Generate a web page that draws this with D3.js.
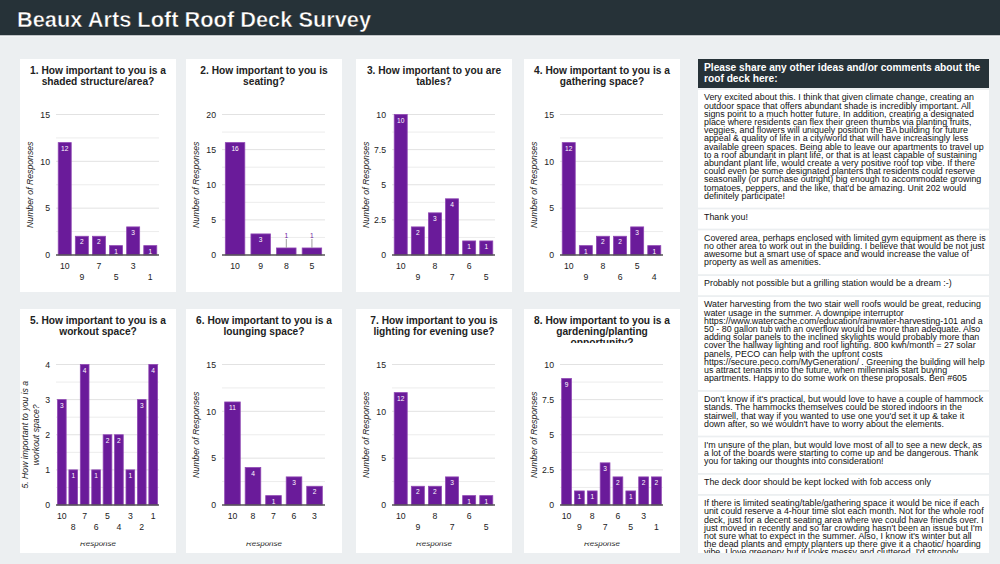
<!DOCTYPE html>
<html>
<head>
<meta charset="utf-8">
<script src="https://cdn.jsdelivr.net/npm/d3@7"></script>
<style>
  body { margin: 0; background: #eceff1; }
  svg { display: block; font-family: "Liberation Sans", Arial, sans-serif; }
</style>
</head>
<body>
<div id="container"></div>
<script>
const pageTitle = "Beaux Arts Loft Roof Deck Survey";

const chartTitles = [
  ["1. How important to you is a", "shaded structure/area?"],
  ["2. How important to you is", "seating?"],
  ["3. How important to you are", "tables?"],
  ["4. How important to you is a", "gathering space?"],
  ["5. How important to you is a", "workout space?"],
  ["6. How important to you is a", "lounging space?"],
  ["7. How important to you is", "lighting for evening use?"],
  ["8. How important to you is a", "gardening/planting", "opportunity?"]
];

const q1Responses = ["10", "9", "7", "5", "3", "1"];
const q1Counts = [12, 2, 2, 1, 3, 1];
const q2Responses = ["10", "9", "8", "5"];
const q2Counts = [16, 3, 1, 1];
const q3Responses = ["10", "9", "8", "7", "6", "5"];
const q3Counts = [10, 2, 3, 4, 1, 1];
const q4Responses = ["10", "9", "8", "6", "5", "4"];
const q4Counts = [12, 1, 2, 2, 3, 1];
const q5Responses = ["10", "8", "7", "6", "5", "4", "3", "2", "1"];
const q5Counts = [3, 1, 4, 1, 2, 2, 1, 3, 4];
const q6Responses = ["10", "8", "7", "6", "3"];
const q6Counts = [11, 4, 1, 3, 2];
const q7Responses = ["10", "9", "8", "7", "6", "5"];
const q7Counts = [12, 2, 2, 3, 1, 1];
const q8Responses = ["10", "9", "8", "7", "6", "5", "3", "1"];
const q8Counts = [9, 1, 1, 3, 2, 1, 2, 2];

const yMaxes = [15, 20, 10, 15, 4, 15, 15, 10];
const yLabelSteps = [5, 5, 2.5, 5, 1, 5, 5, 2.5];
const yAxisTitles = [
  ["Number of Responses"], ["Number of Responses"], ["Number of Responses"], ["Number of Responses"],
  ["5. How important to you is a", "workout space?"],
  ["Number of Responses"], ["Number of Responses"], ["Number of Responses"]
];
const xAxisTitle = "Response";

const commentHeader = ["Please share any other ideas and/or comments about the", "roof deck here:"];
const comments = [
  ["Very excited about this. I think that given climate change, creating an",
   "outdoor space that offers abundant shade is incredibly important. All",
   "signs point to a much hotter future. In addition, creating a designated",
   "place where residents can flex their green thumbs via planting fruits,",
   "veggies, and flowers will uniquely position the BA building for future",
   "appeal & quality of life in a city/world that will have increasingly less",
   "available green spaces. Being able to leave our apartments to travel up",
   "to a roof abundant in plant life, or that is at least capable of sustaining",
   "abundant plant life, would create a very positive roof top vibe. If there",
   "could even be some designated planters that residents could reserve",
   "seasonally (or purchase outright) big enough to accommodate growing",
   "tomatoes, peppers, and the like, that'd be amazing. Unit 202 would",
   "definitely participate!"],
  ["Thank you!"],
  ["Covered area, perhaps enclosed with limited gym equipment as there is",
   "no other area to work out in the building. I believe that would be not just",
   "awesome but a smart use of space and would increase the value of",
   "property as well as amenities."],
  ["Probably not possible but a grilling station would be a dream :-)"],
  ["Water harvesting from the two stair well roofs would be great, reducing",
   "water usage in the summer. A downpipe interruptor",
   "https://www.watercache.com/education/rainwater-harvesting-101 and a",
   "50 - 80 gallon tub with an overflow would be more than adequate. Also",
   "adding solar panels to the inclined skylights would probably more than",
   "cover the hallway lighting and roof lighting. 800 kwh/month = 27 solar",
   "panels, PECO can help with the upfront costs",
   "https://secure.peco.com/MyGeneration/ . Greening the building will help",
   "us attract tenants into the future, when millennials start buying",
   "apartments. Happy to do some work on these proposals. Ben #605"],
  ["Don't know if it's practical, but would love to have a couple of hammock",
   "stands. The hammocks themselves could be stored indoors in the",
   "stairwell, that way if you wanted to use one you'd set it up & take it",
   "down after, so we wouldn't have to worry about the elements."],
  ["I'm unsure of the plan, but would love most of all to see a new deck, as",
   "a lot of the boards were starting to come up and be dangerous. Thank",
   "you for taking our thoughts into consideration!"],
  ["The deck door should be kept locked with fob access only"],
  ["If there is limited seating/table/gathering space it would be nice if each",
   "unit could reserve a 4-hour time slot each month. Not for the whole roof",
   "deck, just for a decent seating area where we could have friends over. I",
   "just moved in recently and so far crowding hasn't been an issue but I'm",
   "not sure what to expect in the summer. Also, I know it's winter but all",
   "the dead plants and empty planters up there give it a chaotic/ hoarding",
   "vibe. I love greenery but it looks messy and cluttered. I'd strongly",
   "recommend clearing them out."]
];

const responses = [q1Responses, q2Responses, q3Responses, q4Responses, q5Responses, q6Responses, q7Responses, q8Responses];
const counts = [q1Counts, q2Counts, q3Counts, q4Counts, q5Counts, q6Counts, q7Counts, q8Counts];

const width = 1000;
const height = 564;
const colX = [20, 186, 356, 524];
const rowY = [59, 309];
const rowH = [233, 244];
const panelW = 156;
const plot = { left: 36, width: 103, top: 55.5, bottom: 196 };
const purple = "#6a1b9a";

const svg = d3.select("#container")
              .append("svg")
              .attr("width", width)
              .attr("height", height);

svg.append("rect").attr("width", width).attr("height", height).attr("fill", "#eceff1");

// page header
svg.append("rect").attr("width", width).attr("height", 35.5).attr("fill", "#263238");
svg.append("rect").attr("y", 35.5).attr("width", width).attr("height", 1.2).attr("fill", "#f7f8f9");
svg.append("text")
   .attr("x", 17)
   .attr("y", 27)
   .attr("fill", "#fff")
   .attr("stroke", "#111")
   .attr("stroke-width", 0.4)
   .attr("font-size", "21.8px")
   .attr("font-weight", "bold")
   .text(pageTitle);

const defs = svg.append("defs");

chartTitles.forEach((title, i) => {
  const col = i % 4, row = Math.floor(i / 4);
  const px = colX[col], py = rowY[row], ph = rowH[row];
  const g = svg.append("g").attr("transform", "translate(" + px + "," + py + ")");

  defs.append("clipPath").attr("id", "panel" + i)
      .append("rect").attr("width", panelW).attr("height", ph);
  defs.append("clipPath").attr("id", "title" + i)
      .append("rect").attr("width", panelW).attr("height", 34);
  defs.append("clipPath").attr("id", "xtitle" + i)
      .append("rect").attr("y", plot.bottom + 37.6).attr("width", panelW).attr("height", 20);

  g.append("rect").attr("width", panelW).attr("height", ph).attr("fill", "#fff");
  const inner = g.append("g").attr("clip-path", "url(#panel" + i + ")");

  inner.append("text")
       .attr("clip-path", "url(#title" + i + ")")
       .attr("text-anchor", "middle")
       .attr("font-size", "10.2px")
       .attr("font-weight", "bold")
       .attr("fill", "#222")
       .selectAll("tspan")
       .data(title)
       .enter()
       .append("tspan")
       .attr("x", panelW / 2)
       .attr("y", (d, j) => 15 + j * 11)
       .text((d) => d);

  const cats = responses[i], vals = counts[i];
  const yMax = yMaxes[i], step = yLabelSteps[i];

  const yScale = d3.scaleLinear()
                   .domain([0, yMax])
                   .range([plot.bottom, plot.top]);
  const xScale = d3.scaleBand()
                   .domain(cats)
                   .range([plot.left, plot.left + plot.width])
                   .paddingInner(0.24)
                   .paddingOuter(0.13);

  const majors = d3.range(0, yMax + step / 2, step);
  const minors = d3.range(step / 2, yMax, step);

  inner.selectAll(".minor")
       .data(minors)
       .enter()
       .append("line")
       .attr("x1", plot.left).attr("x2", plot.left + plot.width)
       .attr("y1", (d) => yScale(d)).attr("y2", (d) => yScale(d))
       .attr("stroke", "#ececec");
  inner.selectAll(".major")
       .data(majors.slice(1))
       .enter()
       .append("line")
       .attr("x1", plot.left).attr("x2", plot.left + plot.width)
       .attr("y1", (d) => yScale(d)).attr("y2", (d) => yScale(d))
       .attr("stroke", "#e2e2e2");

  const yAxis = d3.axisLeft(yScale).tickValues(majors).tickSize(0).tickPadding(6)
                  .tickFormat((d) => (Number.isInteger(d) ? d : d.toFixed(1)));
  const ya = inner.append("g")
                  .attr("transform", "translate(" + plot.left + ",0)")
                  .call(yAxis);
  ya.select(".domain").remove();
  ya.selectAll("text").attr("font-size", "8.7px").attr("fill", "#222").attr("font-family", null);

  const xAxis = d3.axisBottom(xScale).tickSize(0).tickPadding(0);
  const xa = inner.append("g")
                  .attr("transform", "translate(0," + plot.bottom + ")")
                  .call(xAxis);
  xa.select(".domain").remove();
  xa.selectAll("text")
    .attr("font-size", "8.7px")
    .attr("fill", "#222")
    .attr("font-family", null)
    .attr("dy", null)
    .attr("y", (d, j) => (cats.length > 5 && j % 2 == 1 ? 25 : 14));

  inner.selectAll(".bar")
       .data(vals)
       .enter()
       .append("rect")
       .attr("x", (d, j) => xScale(cats[j]))
       .attr("y", (d) => yScale(d))
       .attr("width", xScale.bandwidth())
       .attr("height", (d) => plot.bottom - yScale(d))
       .attr("fill", purple)
       .attr("stroke", "#8f47b3")
       .attr("stroke-width", 0.8);

  inner.append("line")
       .attr("x1", plot.left).attr("x2", plot.left + plot.width)
       .attr("y1", plot.bottom).attr("y2", plot.bottom)
       .attr("stroke", "#555")
       .attr("stroke-width", 1.5);

  vals.forEach((v, j) => {
    const cx = xScale(cats[j]) + xScale.bandwidth() / 2;
    const top = yScale(v);
    if (plot.bottom - top >= 9) {
      inner.append("text")
           .attr("x", cx).attr("y", top + 8)
           .attr("text-anchor", "middle")
           .attr("font-size", "6.6px")
           .attr("fill", "#fff")
           .text(v);
    } else {
      inner.append("line")
           .attr("x1", cx).attr("x2", cx)
           .attr("y1", top - 9).attr("y2", top)
           .attr("stroke", "#9e9e9e");
      inner.append("text")
           .attr("x", cx).attr("y", top - 10)
           .attr("text-anchor", "middle")
           .attr("font-size", "6.6px")
           .attr("fill", purple)
           .text(v);
    }
  });

  const yTitle = yAxisTitles[i];
  const midY = (plot.top + plot.bottom) / 2;
  inner.append("text")
       .attr("transform", "translate(" + (plot.left - 26 - (yTitle.length - 1) * 5.5) + "," + midY + ")rotate(-90)")
       .attr("text-anchor", "middle")
       .attr("font-size", "8.7px")
       .attr("font-style", "italic")
       .attr("fill", "#222")
       .selectAll("tspan")
       .data(yTitle)
       .enter()
       .append("tspan")
       .attr("x", 0)
       .attr("y", (d, j) => 3 + j * 11)
       .text((d) => d);

  inner.append("text")
       .attr("clip-path", "url(#xtitle" + i + ")")
       .attr("x", panelW / 2)
       .attr("y", plot.bottom + 41)
       .attr("text-anchor", "middle")
       .attr("font-size", "8px")
       .attr("font-style", "italic")
       .attr("fill", "#222")
       .text(xAxisTitle);
});

// comments column
const cx0 = 698, cw = 291, lineH = 8.2;
svg.append("rect").attr("x", cx0).attr("y", 59).attr("width", cw).attr("height", 29).attr("fill", "#263238");
svg.append("text")
   .attr("font-size", "10.2px")
   .attr("font-weight", "bold")
   .attr("fill", "#fff")
   .selectAll("tspan")
   .data(commentHeader)
   .enter()
   .append("tspan")
   .attr("x", cx0 + 6)
   .attr("y", (d, j) => 71 + j * 11)
   .text((d) => d);

defs.append("clipPath").attr("id", "comments")
    .append("rect").attr("x", cx0).attr("y", 88).attr("width", cw).attr("height", 553 - 88);
const cg = svg.append("g").attr("clip-path", "url(#comments)");

let cy = 90;
comments.forEach((lines) => {
  const h = lines.length * lineH + 11;
  cg.append("rect").attr("x", cx0).attr("y", cy).attr("width", cw).attr("height", h).attr("fill", "#fff");
  cg.append("text")
    .attr("font-size", "8.9px")
    .attr("fill", "#111")
    .selectAll("tspan")
    .data(lines)
    .enter()
    .append("tspan")
    .attr("x", cx0 + 6)
    .attr("y", (d, j) => cy + 10.3 + j * lineH)
    .text((d) => d);
  cy += h + 1.8;
});
</script>
</body>
</html>
